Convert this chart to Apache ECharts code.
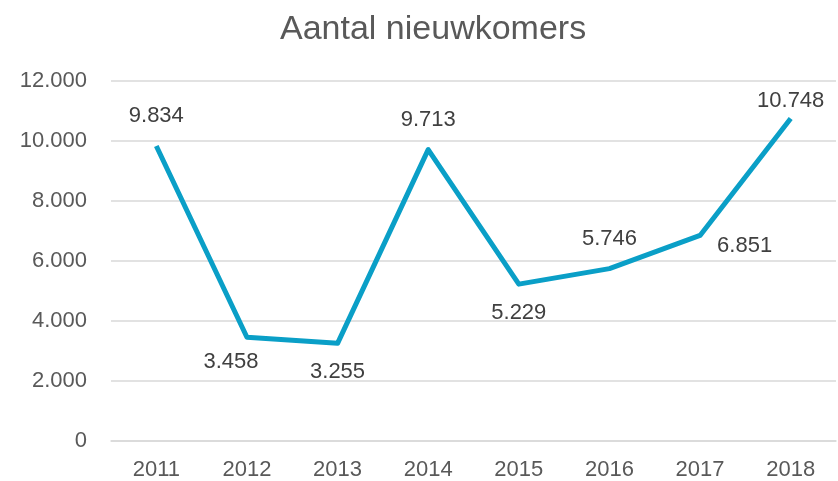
<!DOCTYPE html>
<html>
<head>
<meta charset="utf-8">
<script src="https://cdn.jsdelivr.net/npm/echarts@6/dist/echarts.min.js"></script>
<style>
  html, body { margin: 0; padding: 0; background: #fff; }
  #chart { width: 838px; height: 481px; }
</style>
</head>
<body>
<div id="chart"></div>
<script>
const years = ['2011', '2012', '2013', '2014', '2015', '2016', '2017', '2018'];
const newcomers = [9834, 3458, 3255, 9713, 5229, 5746, 6851, 10748];
// where Excel put each data label
const labelPlaces = ['top', 'bottom', 'bottom', 'top', 'bottom', 'top', 'right', 'top'];
const labelGaps = [18, 13, 17, 18, 17, 18, 16, 6];
const labelShifts = [[0, 0], [-16, 0], [0, 0], [0, 0], [0, 0], [0, 0], [0, 10], [0, 0]];

function dutch(n) {
  return String(n).replace(/\B(?=(\d{3})+(?!\d))/g, '.');
}

const font = '"Liberation Sans", Arial, sans-serif';

const chart = echarts.init(document.getElementById('chart'));
chart.setOption({
  animation: false,
  title: {
    text: 'Aantal nieuwkomers',
    left: 275,
    top: 8,
    textStyle: { fontFamily: font, fontSize: 34, fontWeight: 'normal', color: '#595959' }
  },
  grid: { left: 111, right: 2, top: 81, bottom: 39 },
  xAxis: {
    type: 'category',
    data: years,
    boundaryGap: true,
    axisLine: { lineStyle: { color: '#d9d9d9', width: 1.5 } },
    axisTick: { show: false },
    axisLabel: { fontFamily: font, fontSize: 22, color: '#595959', margin: 18 }
  },
  yAxis: {
    type: 'value',
    min: 0,
    max: 12000,
    interval: 2000,
    axisLine: { show: false },
    axisTick: { show: false },
    splitLine: { lineStyle: { color: '#d9d9d9', width: 1.5 } },
    axisLabel: { fontFamily: font, fontSize: 22, color: '#595959', margin: 24, formatter: v => dutch(v) }
  },
  series: [{
    type: 'line',
    data: newcomers.map((v, i) => ({
      value: v,
      label: { position: labelPlaces[i], distance: labelGaps[i], offset: labelShifts[i] }
    })),
    symbol: 'circle',
    symbolSize: 2,
    showSymbol: true,
    itemStyle: { color: 'rgba(0,0,0,0)' },
    lineStyle: { color: '#0a9fc7', width: 5, join: 'round' },
    label: {
      show: true,
      fontFamily: font,
      fontSize: 22,
      color: '#404040',
      formatter: p => dutch(p.value)
    }
  }]
});
</script>
</body>
</html>
